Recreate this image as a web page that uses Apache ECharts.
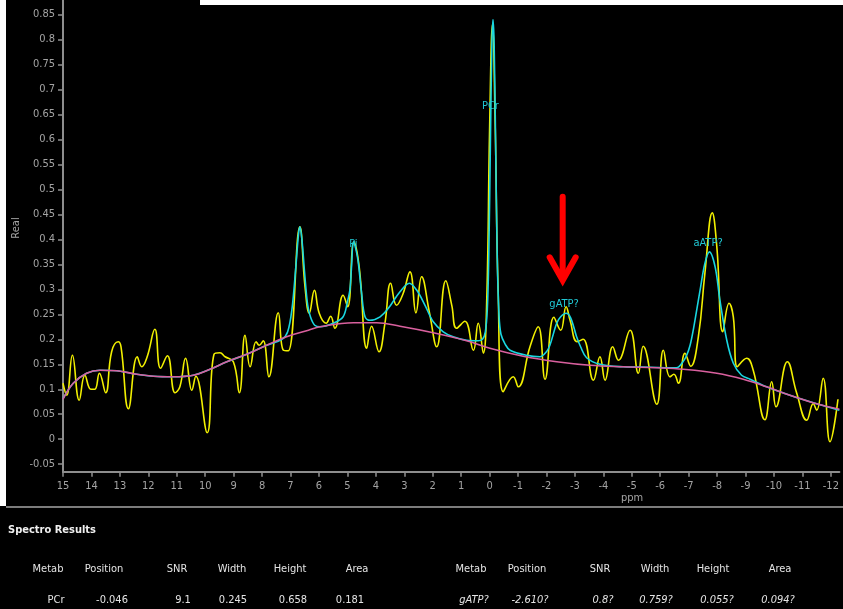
<!DOCTYPE html>
<html>
<head>
<meta charset="utf-8">
<script src="https://cdn.jsdelivr.net/npm/echarts@6/dist/echarts.min.js"></script>
<style>
  html, body { margin: 0; padding: 0; background: #000; }
  #main { width: 843px; height: 609px; }
</style>
</head>
<body>
<div id="main"></div>
<script>
// Measured spectrum (real part) against chemical shift in ppm
const rawPpm = [15.00, 14.87, 14.67, 14.43, 14.23, 14.02, 13.88, 13.72, 13.50, 13.29, 13.06, 12.96, 12.70, 12.39, 12.23, 12.04,
  11.77, 11.57, 11.33, 11.06, 10.89, 10.69, 10.47, 10.33, 9.93, 9.69, 9.48, 9.30, 9.01, 8.80, 8.60, 8.42, 8.21, 8.10, 7.96,
  7.76, 7.43, 7.25, 7.08, 6.67, 6.49, 6.34, 6.16, 5.99, 5.75, 5.59, 5.44, 5.15, 4.99, 4.77, 4.58, 4.32, 4.15, 3.89, 3.68,
  3.48, 3.27, 3.05, 2.80, 2.59, 2.39, 2.12, 1.86, 1.54, 1.33, 1.16, 0.87, 0.57, 0.40, 0.22, 0.10, 0.00, -0.10, -0.20, -0.30,
  -0.48, -0.83, -1.01, -1.42, -1.71, -1.95, -2.26, -2.50, -2.69, -2.83, -3.08, -3.29, -3.65, -3.88, -4.06, -4.33, -4.53,
  -4.94, -5.23, -5.40, -5.88, -6.11, -6.34, -6.48, -6.64, -6.87, -7.07, -7.34, -7.57, -7.83, -7.99, -8.20, -8.42, -8.57,
  -8.71, -9.04, -9.27, -9.68, -9.92, -10.07, -10.47, -10.80, -11.15, -11.38, -11.50, -11.73, -11.97, -12.25];
const rawReal = [0.112, 0.088, 0.168, 0.078, 0.128, 0.100, 0.100, 0.132, 0.093, 0.175, 0.195, 0.185, 0.061, 0.165, 0.145, 0.165,
  0.220, 0.142, 0.167, 0.093, 0.105, 0.162, 0.098, 0.126, 0.013, 0.170, 0.173, 0.165, 0.155, 0.093, 0.208, 0.145, 0.195, 0.188, 0.197,
  0.125, 0.253, 0.178, 0.177, 0.425, 0.305, 0.252, 0.298, 0.252, 0.232, 0.246, 0.222, 0.288, 0.265, 0.395, 0.342, 0.182, 0.226, 0.175, 0.232,
  0.312, 0.268, 0.290, 0.335, 0.253, 0.325, 0.255, 0.185, 0.317, 0.268, 0.222, 0.236, 0.178, 0.232, 0.172, 0.280, 0.620, 0.830, 0.620, 0.300,
  0.095, 0.125, 0.105, 0.185, 0.225, 0.120, 0.244, 0.218, 0.265, 0.238, 0.195, 0.200, 0.118, 0.165, 0.118, 0.185, 0.158,
  0.218, 0.132, 0.186, 0.070, 0.178, 0.125, 0.130, 0.112, 0.172, 0.146, 0.205, 0.332, 0.453, 0.385, 0.215, 0.272, 0.245,
  0.145, 0.162, 0.138, 0.039, 0.115, 0.065, 0.155, 0.092, 0.038, 0.071, 0.058, 0.122, -0.005, 0.080];

// Fitted model (baseline plus metabolite peaks)
const fitPpm = [15.00, 14.64, 14.17, 13.70, 13.11, 12.41, 11.82, 11.12, 10.42, 9.83, 9.24, 8.54, 7.84, 7.30, 7.10, 6.95, 6.82,
  6.72, 6.67, 6.60, 6.50, 6.40, 6.30, 6.15, 5.96, 5.50, 5.15, 5.00, 4.91, 4.85, 4.79, 4.70, 4.62, 4.50, 4.38, 4.21, 3.85, 3.56,
  3.15, 2.82, 2.56, 2.27, 1.98, 1.63, 1.28, 0.81, 0.40, 0.25, 0.15, 0.08, 0.03, -0.03, -0.08, -0.12, -0.16, -0.21, -0.27, -0.33,
  -0.40, -0.55, -0.72, -1.30, -1.77, -2.00, -2.12, -2.36, -2.50, -2.69, -2.85, -3.06, -3.20, -3.41, -3.88, -4.70, -5.64, -6.57,
  -6.80, -6.93, -7.05, -7.16, -7.40, -7.57, -7.73, -7.93, -8.10, -8.34, -8.57, -8.86, -9.16, -9.74, -10.56, -11.50, -12.30];
const fitReal = [0.081, 0.112, 0.132, 0.138, 0.137, 0.130, 0.126, 0.125, 0.128, 0.140, 0.155, 0.170, 0.188, 0.200, 0.215, 0.260, 0.340,
  0.410, 0.425, 0.400, 0.330, 0.270, 0.245, 0.228, 0.225, 0.232, 0.245, 0.275, 0.300, 0.350, 0.395, 0.380, 0.355, 0.292, 0.245, 0.238, 0.245, 0.262,
  0.295, 0.312, 0.298, 0.268, 0.235, 0.215, 0.205, 0.198, 0.197, 0.200, 0.215, 0.260, 0.360, 0.600, 0.790, 0.840, 0.790, 0.600, 0.360, 0.250,
  0.210, 0.190, 0.178, 0.168, 0.165, 0.175, 0.188, 0.232, 0.245, 0.252, 0.243, 0.205, 0.185, 0.163, 0.150, 0.145, 0.144, 0.143,
  0.155, 0.168, 0.188, 0.218, 0.298, 0.352, 0.375, 0.345, 0.278, 0.198, 0.152, 0.128, 0.120, 0.105, 0.088, 0.071, 0.058];

// Baseline estimate
const basePpm = [15.00, 14.64, 14.17, 13.70, 13.11, 12.41, 11.82, 11.12, 10.42, 9.83, 9.24, 8.54, 7.84, 7.14, 6.37, 5.96, 4.79,
  3.97, 3.15, 1.98, 0.81, -0.01, -1.18, -2.36, -3.53, -4.70, -5.88, -6.81, -7.99, -8.92, -9.74, -10.56, -11.50, -12.30];
const baseReal = [0.080, 0.112, 0.132, 0.138, 0.137, 0.130, 0.126, 0.125, 0.128, 0.140, 0.155, 0.170, 0.188, 0.205, 0.218, 0.225, 0.233,
  0.233, 0.226, 0.213, 0.197, 0.182, 0.166, 0.155, 0.148, 0.145, 0.143, 0.140, 0.132, 0.120, 0.105, 0.088, 0.071, 0.060];

// Peak annotations (name, ppm, real)
const peakNames = ['Pi', 'PCr', 'gATP?', 'aATP?'];
const peakPpm = [4.79, -0.03, -2.62, -7.68];
const peakReal = [0.390, 0.667, 0.270, 0.393];

// Axis ticks
const xTicks = [15, 14, 13, 12, 11, 10, 9, 8, 7, 6, 5, 4, 3, 2, 1, 0, -1, -2, -3, -4, -5, -6, -7, -8, -9, -10, -11, -12];
const yTicks = [-0.05, 0, 0.05, 0.1, 0.15, 0.2, 0.25, 0.3, 0.35, 0.4, 0.45, 0.5, 0.55, 0.6, 0.65, 0.7, 0.75, 0.8, 0.85];

// Results table
const tableHeader = ['Metab', 'Position', 'SNR', 'Width', 'Height', 'Area'];
const resultA = ['PCr', '-0.046', '9.1', '0.245', '0.658', '0.181'];
const resultB = ['gATP?', '-2.610?', '0.8?', '0.759?', '0.055?', '0.094?'];

const pairs = (xs, ys) => xs.map((x, i) => [x, ys[i]]);
const FONT = "'Liberation Sans Narrow', 'DejaVu Sans Condensed', 'Liberation Sans', sans-serif";
const AXIS_GREY = '#8e8e8e';
const LABEL_GREY = '#a4a4a4';

const chart = echarts.init(document.getElementById('main'));

const option = {
  backgroundColor: '#000',
  animation: false,
  grid: { left: 63, right: 3.6, top: 0, height: 471.7 },
  xAxis: {
    type: 'value', inverse: true, min: -12.3, max: 15,
    axisLine: { onZero: false, lineStyle: { color: AXIS_GREY, width: 2 } },
    axisTick: { customValues: xTicks, length: 5, lineStyle: { color: AXIS_GREY, width: 1.5 } },
    axisLabel: { customValues: xTicks, color: LABEL_GREY, fontSize: 11, fontFamily: FONT, margin: 9 },
    splitLine: { show: false }
  },
  yAxis: {
    type: 'value', min: -0.065, max: 0.879,
    axisLine: { show: true, onZero: false, lineStyle: { color: AXIS_GREY, width: 2 } },
    axisTick: { show: true, customValues: yTicks, length: 5, lineStyle: { color: AXIS_GREY, width: 1.5 } },
    axisLabel: { customValues: yTicks, color: LABEL_GREY, fontSize: 11, fontFamily: FONT, margin: 8 },
    splitLine: { show: false }
  },
  series: [
    {
      name: 'data', type: 'line', data: pairs(rawPpm, rawReal), smooth: 0.45, symbol: 'none',
      lineStyle: { color: '#f2f000', width: 1.6 }, z: 2
    },
    {
      name: 'fit', type: 'line', data: pairs(fitPpm, fitReal), smooth: 0.35, symbol: 'none',
      lineStyle: { color: '#19d6e0', width: 1.6 }, z: 3,
      markPoint: {
        symbol: 'circle', symbolSize: 1, itemStyle: { color: 'rgba(0,0,0,0)' },
        label: { show: true, position: 'inside', formatter: '{b}', color: '#20c8d4', fontSize: 11, fontFamily: FONT },
        data: peakNames.map((n, i) => ({ name: n, coord: [peakPpm[i], peakReal[i]] }))
      }
    },
    {
      name: 'baseline', type: 'line', data: pairs(basePpm, baseReal), smooth: 0.4, symbol: 'none',
      lineStyle: { color: '#d9609e', width: 1.6 }, z: 4
    }
  ]
};
chart.setOption(option);

// Arrow marking the gATP region, anchored in data coordinates
const arrowTop = chart.convertToPixel({ gridIndex: 0 }, [-2.57, 0.485]);
const arrowTip = chart.convertToPixel({ gridIndex: 0 }, [-2.57, 0.318]);

const graphics = [
  { type: 'rect', shape: { x: 0, y: 0, width: 6, height: 506 }, style: { fill: '#fff' }, silent: true },
  { type: 'rect', shape: { x: 200, y: 0, width: 643, height: 5 }, style: { fill: '#fff' }, silent: true },
  { type: 'line', shape: { x1: 6, y1: 507, x2: 843, y2: 507 }, style: { stroke: '#7c7c7c', lineWidth: 2 }, silent: true },
  { type: 'text', x: 16, y: 228, rotation: Math.PI / 2,
    style: { text: 'Real', fill: LABEL_GREY, font: '11px ' + FONT, textAlign: 'center', textVerticalAlign: 'middle' } },
  { type: 'text', x: 632, y: 498,
    style: { text: 'ppm', fill: LABEL_GREY, font: '11px ' + FONT, textAlign: 'center', textVerticalAlign: 'middle' } },
  { type: 'polyline', shape: { points: [[arrowTop[0], arrowTop[1]], [arrowTip[0], arrowTip[1] - 4]] },
    style: { stroke: '#ff0000', lineWidth: 6, lineCap: 'round' } },
  { type: 'polyline', shape: { points: [[arrowTip[0] - 13, arrowTip[1] - 23], [arrowTip[0], arrowTip[1]], [arrowTip[0] + 13, arrowTip[1] - 23]] },
    style: { stroke: '#ff0000', lineWidth: 6, lineCap: 'round', lineJoin: 'miter', fill: null } },
  { type: 'text', x: 8, y: 530,
    style: { text: 'Spectro Results', fill: '#f0f0f0', font: 'bold 11px ' + FONT, textVerticalAlign: 'middle' } }
];

const colA = [48, 104, 177, 232, 290, 357];
const valA = [56, 112, 183, 233, 293, 350];
const colB = [471, 527, 600, 655, 713, 780];
const valB = [474, 530, 603, 656, 717, 778];
tableHeader.forEach((h, i) => {
  graphics.push({ type: 'text', x: colA[i], y: 569, style: { text: h, fill: '#e4e4e4', font: '11px ' + FONT, textAlign: 'center', textVerticalAlign: 'middle' } });
  graphics.push({ type: 'text', x: colB[i], y: 569, style: { text: h, fill: '#e4e4e4', font: '11px ' + FONT, textAlign: 'center', textVerticalAlign: 'middle' } });
});
resultA.forEach((v, i) => {
  graphics.push({ type: 'text', x: valA[i], y: 600, style: { text: v, fill: '#e4e4e4', font: '11px ' + FONT, textAlign: 'center', textVerticalAlign: 'middle' } });
});
resultB.forEach((v, i) => {
  graphics.push({ type: 'text', x: valB[i], y: 600, style: { text: v, fill: '#e4e4e4', font: 'italic 11px ' + FONT, textAlign: 'center', textVerticalAlign: 'middle' } });
});

chart.setOption({ graphic: graphics });
</script>
</body>
</html>
